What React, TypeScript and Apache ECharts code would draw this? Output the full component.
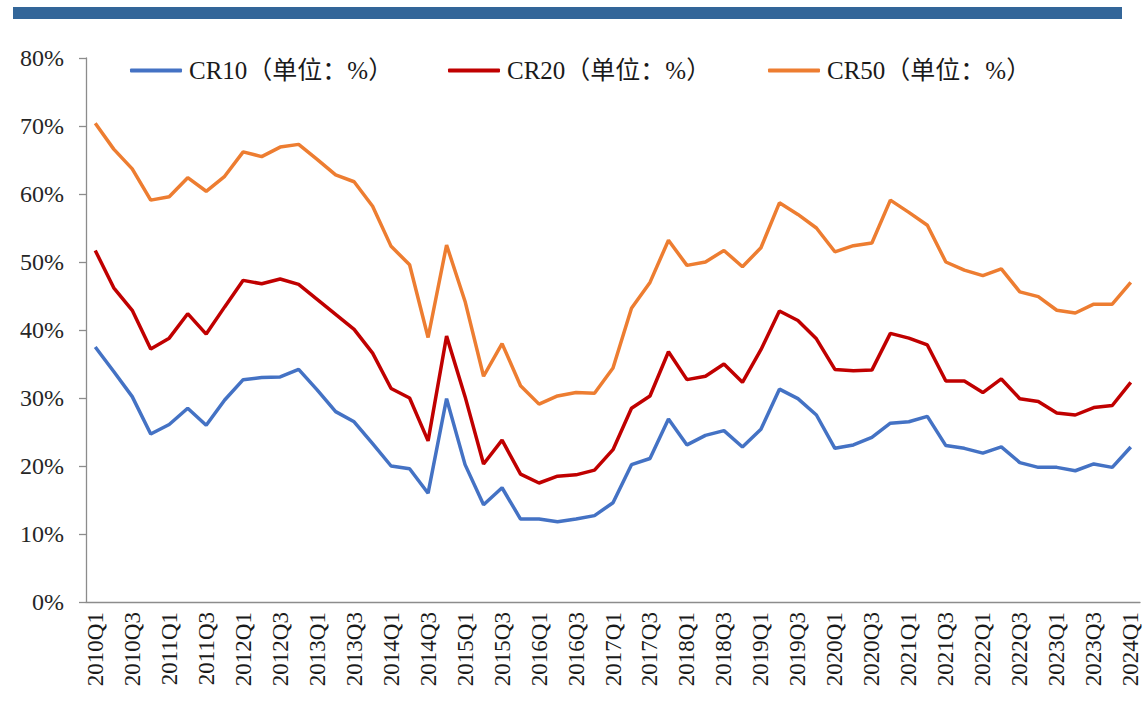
import React, { useEffect, useRef } from "react";
import * as echarts from "echarts";

const years = [2010, 2011, 2012, 2013, 2014, 2015, 2016, 2017, 2018, 2019, 2020, 2021, 2022, 2023, 2024];
const categories: string[] = [];
years.forEach((y) => {
  for (let q = 1; q <= 4; q++) {
    if (y === 2024 && q > 1) break;
    categories.push(`${y}Q${q}`);
  }
});

const cr10 = [
  37.5, 33.9, 30.2, 24.7, 26.1, 28.5, 26.0, 29.7, 32.7, 33.0, 33.1, 34.2, 31.2, 28.0,
  26.5, 23.3, 20.0, 19.6, 16.0, 29.9, 20.2, 14.3, 16.8, 12.2, 12.2, 11.8, 12.2, 12.7,
  14.6, 20.2, 21.1, 26.9, 23.1, 24.5, 25.2, 22.8, 25.4, 31.3, 29.9, 27.5, 22.6, 23.1,
  24.2, 26.3, 26.5, 27.3, 23.0, 22.6, 21.9, 22.8, 20.5, 19.8, 19.8, 19.3, 20.3, 19.8, 22.8,
];
const cr20 = [
  51.7, 46.2, 42.9, 37.2, 38.8, 42.4, 39.4, 43.4, 47.3, 46.8, 47.5, 46.7, 44.5, 42.3,
  40.1, 36.6, 31.4, 30.0, 23.7, 39.1, 30.2, 20.3, 23.8, 18.8, 17.5, 18.5, 18.7, 19.4,
  22.4, 28.5, 30.3, 36.8, 32.7, 33.2, 35.0, 32.3, 37.1, 42.8, 41.4, 38.7, 34.2, 34.0,
  34.1, 39.5, 38.8, 37.8, 32.5, 32.5, 30.8, 32.8, 29.9, 29.5, 27.8, 27.5, 28.6, 28.9, 32.3,
];
const cr50 = [
  70.4, 66.6, 63.7, 59.1, 59.6, 62.4, 60.4, 62.6, 66.2, 65.5, 66.9, 67.3, 65.1, 62.8,
  61.8, 58.2, 52.3, 49.6, 38.9, 52.5, 44.2, 33.2, 38.0, 31.8, 29.1, 30.3, 30.8, 30.7,
  34.4, 43.2, 47.0, 53.2, 49.5, 50.0, 51.7, 49.3, 52.1, 58.7, 57.0, 55.0, 51.5, 52.4,
  52.8, 59.1, 57.3, 55.4, 50.0, 48.8, 48.0, 49.0, 45.6, 44.9, 42.9, 42.5, 43.8, 43.8, 47.0,
];

const seriesNames = ["CR10（单位：%）", "CR20（单位：%）", "CR50（单位：%）"];
const seriesColors = ["#4472C4", "#C00000", "#ED7D31"];
const seriesData = [cr10, cr20, cr50];
const legendLefts = [125, 443, 763];

const FONT = "'Liberation Serif', 'Noto Sans CJK SC', serif";

export default function App() {
  const ref = useRef<HTMLDivElement>(null);
  useEffect(() => {
    if (!ref.current) return;
    const chart = echarts.init(ref.current, undefined, { renderer: "svg" });
    chart.setOption({
      animation: false,
      backgroundColor: "#ffffff",
      graphic: [
        {
          type: "rect",
          shape: { x: 13, y: 7, width: 1109, height: 12 },
          style: { fill: "#336699" },
        },
      ],
      legend: seriesNames.map((n, i) => ({
        data: [n],
        left: legendLefts[i],
        top: 53,
        icon: "roundRect",
        itemWidth: 52,
        itemHeight: 4,
        itemGap: 0,
        textStyle: { fontFamily: FONT, fontSize: 25, color: "#1a1a1a", padding: [0, 0, 0, 2] },
      })),
      grid: { left: 86, right: 5, top: 58, bottom: 100, containLabel: false },
      xAxis: {
        type: "category",
        data: categories,
        boundaryGap: true,
        axisLine: { lineStyle: { color: "#8c8c8c", width: 1.3 } },
        axisTick: { interval: 1, length: 7, lineStyle: { color: "#8c8c8c", width: 1.3 } },
        axisLabel: {
          interval: 1,
          rotate: 90,
          margin: 10,
          fontFamily: FONT,
          fontSize: 23,
          color: "#1a1a1a",
        },
        splitLine: { show: false },
      },
      yAxis: {
        type: "value",
        min: 0,
        max: 80,
        interval: 10,
        axisLine: { show: true, lineStyle: { color: "#8c8c8c", width: 1.3 } },
        axisTick: { show: true, length: 7, lineStyle: { color: "#8c8c8c", width: 1.3 } },
        axisLabel: {
          formatter: "{value}%",
          margin: 22,
          fontFamily: FONT,
          fontSize: 24,
          color: "#262626",
        },
        splitLine: { show: false },
      },
      series: seriesNames.map((n, i) => ({
        name: n,
        type: "line",
        data: seriesData[i],
        symbol: "none",
        showSymbol: false,
        lineStyle: { color: seriesColors[i], width: 3.5 },
        itemStyle: { color: seriesColors[i] },
      })),
    });
    return () => chart.dispose();
  }, []);
  return (
    <div
      ref={ref}
      style={{ position: "absolute", left: 0, top: 0, width: 1145, height: 702 }}
    />
  );
}
